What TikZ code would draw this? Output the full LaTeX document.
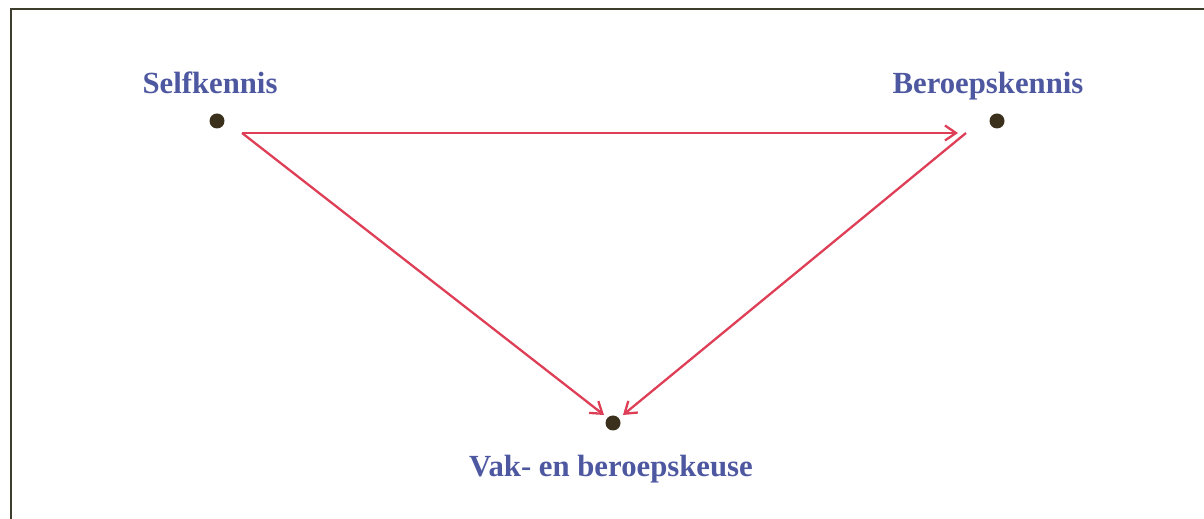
\documentclass[tikz,border=0pt]{standalone}
\usepackage{fontspec}
\setmainfont{Liberation Serif}
\usetikzlibrary{arrows.meta}
\definecolor{cslate}{RGB}{78,88,160}
\definecolor{cred}{RGB}{222,62,86}
\definecolor{cdot}{RGB}{58,48,28}
\definecolor{cframe}{RGB}{62,62,44}

\begin{document}
\begin{tikzpicture}[x=0.02cm,y=-0.02cm,
  dot/.style={circle,fill=cdot,inner sep=0pt,minimum size=0.3cm},
  lbl/.style={text=cslate,font=\fontsize{17.5}{20}\selectfont\bfseries,inner sep=0pt,anchor=base},
  link/.style={->,draw=cred,line width=1.3pt,>={Straight Barb[length=0.22cm,width=0.3cm]}}]
  \useasboundingbox (0,0) rectangle (1204,519);
  \clip (0,0) rectangle (1204,519);
  % frame
  \draw[cframe,line width=1.6pt] (11,560) -- (11,9) -- (1240,9);
  % points
  \node[dot] (self) at (217,121) {};
  \node[dot] (beroep) at (997,121) {};
  \node[dot] (keuse) at (613,423) {};
  \node[lbl] (selflbl) at (210,94) {Selfkennis};
  \node[lbl] (beroeplbl) at (988,94) {Beroepskennis};
  \node[lbl] (keuselbl) at (611,477) {Vak- en beroepskeuse};
  \coordinate (selfout) at (242,133);
  \coordinate (beroepin) at (958,133);
  \coordinate (beroepout) at (966,133);
  \coordinate (keuseleft) at (604,415);
  \coordinate (keuseright) at (623,415);
  \draw[link] (selfout) -- (beroepin);
  \draw[link] (selfout) -- (keuseleft);
  \draw[link] (beroepout) -- (keuseright);
\end{tikzpicture}
\end{document}
